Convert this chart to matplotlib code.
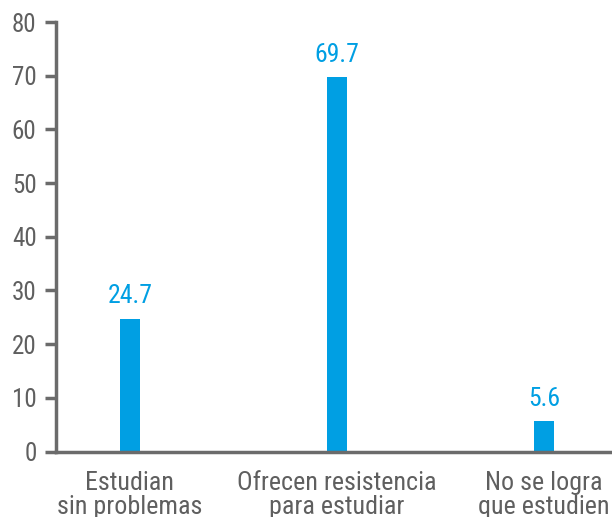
import matplotlib
matplotlib.use("Agg")
import matplotlib.pyplot as plt
from matplotlib import font_manager

categories = ["Estudian\nsin problemas", "Ofrecen resistencia\npara estudiar", "No se logra\nque estudien"]
values = [24.7, 69.7, 5.6]
value_labels = ["24.7", "69.7", "5.6"]
yticks = [0, 10, 20, 30, 40, 50, 60, 70, 80]

names = {f.name for f in font_manager.fontManager.ttflist}
family = [n for n in ["Roboto Condensed", "Liberation Sans Narrow", "Roboto"] if n in names] + ["DejaVu Sans"]
plt.rcParams["font.family"] = family

BLUE = "#009fe3"
GREY = "#5f5f5f"
AXIS = "#6b6b6b"

fig = plt.figure(figsize=(6.12, 5.17), dpi=100)
ax = fig.add_axes([56 / 612, 1 - 451.5 / 517, 1 - 56 / 612, (451.5 - 22) / 517])

x = list(range(len(categories)))
ax.bar(x, values, width=0.097, color=BLUE, zorder=2)
for xi, v, lab in zip(x, values, value_labels):
    ax.text(xi, v + 2.0, lab, ha="center", va="bottom", color=BLUE, fontsize=18.5)

ax.set_xlim(-0.357, 2.328)
ax.set_ylim(0, 80)
ax.set_yticks(yticks)
ax.set_xticks(x)
ax.set_xticklabels(categories, fontsize=18.7, color=GREY, linespacing=1.0)
ax.tick_params(axis="x", length=0, pad=14)
ax.tick_params(axis="y", length=8, width=2.5, color=AXIS, labelsize=18, labelcolor=GREY, pad=6)

for s in ["top", "right"]:
    ax.spines[s].set_visible(False)
for s in ["left", "bottom"]:
    ax.spines[s].set_color(AXIS)
    ax.spines[s].set_linewidth(2.5)

fig.savefig("out.png", dpi=100)
